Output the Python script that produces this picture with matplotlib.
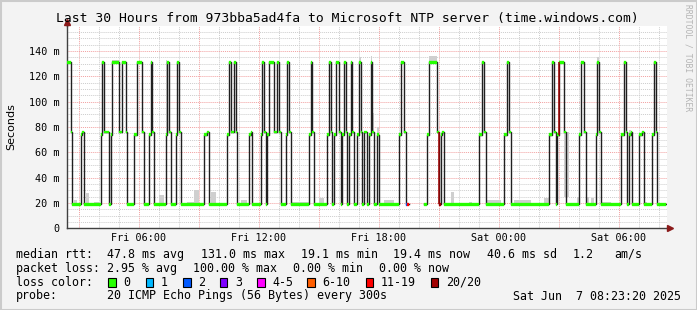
import numpy as np
import pandas as pd
import matplotlib
matplotlib.use("Agg")
import matplotlib.pyplot as plt
import matplotlib.dates as mdates
from matplotlib.patches import Rectangle
from matplotlib.ticker import MultipleLocator, FuncFormatter

W, H = 697, 310
MONO = "DejaVu Sans Mono"

# median rtt in ms, 5 minute samples from Fri 02:20 -------------------------------
# each run: start (minutes after 02:20) and median level (nan = no data)
run_start = [0, 15, 20, 45, 50, 55, 105, 110, 115, 130, 135, 140, 160, 170, 180, 185,
             205, 215, 230, 235, 250, 255, 260, 265, 300, 305, 310, 315, 330, 335, 340, 345,
             415, 425, 430, 485, 490, 495, 505, 510, 515, 550, 555, 560, 585, 590, 595, 600,
             605, 610, 625, 635, 640, 645, 660, 665, 670, 675, 730, 735, 740, 745, 785, 790,
             795, 800, 805, 810, 820, 825, 830, 835, 840, 845, 850, 855, 860, 865, 875, 880,
             885, 890, 895, 905, 910, 915, 920, 925, 935, 940, 1000, 1005, 1015, 1020, 1030,
             1075, 1085, 1090, 1115, 1120, 1125, 1130, 1135, 1240, 1250, 1255, 1260, 1315,
             1325, 1330, 1335, 1450, 1460, 1465, 1470, 1475, 1480, 1495, 1500, 1540, 1545,
             1555, 1560, 1590, 1595, 1600, 1605, 1665, 1675, 1680, 1685, 1690, 1695, 1700,
             1720, 1730, 1735, 1760, 1765, 1770, 1775]
run_level = [131, 76, 19, 74, 76, 19, 74, 131, 76, 19, 74, 131, 76, 131, 76, 19,
             74, 131, 76, 19, 74, 131, 76, 19, 74, 131, 76, 19, 74, 131, 76, 19,
             74, 76, 19, 74, 131, 76, 131, 76, 19, 74, 76, 19, 74, 131, 76, 19,
             74, 131, 76, 131, 76, 19, 74, 131, 76, 19, 74, 131, 76, 19, 74, 131,
             76, 19, 74, 131, 76, 19, 74, 131, 76, 19, 74, 131, 76, 19, 74, 131,
             76, 19, 76, 19, 74, 131, 76, 19, 74, 19, 74, 131, 76, 19, np.nan,
             19, 74, 131, 76, 19, 74, 76, 19, 74, 131, 76, 19,
             74, 131, 76, 19, 74, 131, 76, 19, 74, 131, 76, 19, 74,
             131, 76, 19, 74, 131, 76, 19, 74, 131, 76, 19, 74, 76,
             19, 74, 76, 19, 74, 131, 76, 19]
run_end = 1800

# samples with packet loss (time, loss band)
loss_time = ["2025-06-06 19:20", "2025-06-06 19:25", "2025-06-06 21:00"]
loss_band = ["2", "11-19", "20/20"]
# step edges drawn in the 20/20 colour
dead_time = ["2025-06-06 21:00", "2025-06-07 03:00"]

# smoke (ping spread above the median): start, minutes, top value in ms
smoke_start = ["2025-06-06 02:45", "2025-06-06 03:20", "2025-06-06 03:45", "2025-06-06 04:40",
               "2025-06-06 07:00", "2025-06-06 07:20", "2025-06-06 08:25", "2025-06-06 08:45",
               "2025-06-06 09:35", "2025-06-06 11:05", "2025-06-06 13:35", "2025-06-06 15:00",
               "2025-06-06 17:00", "2025-06-06 17:35", "2025-06-06 17:40", "2025-06-06 17:55",
               "2025-06-06 18:15", "2025-06-06 20:30", "2025-06-06 21:35", "2025-06-06 22:30",
               "2025-06-06 23:25", "2025-06-07 00:45", "2025-06-07 02:15", "2025-06-07 03:15",
               "2025-06-07 03:55", "2025-06-07 04:20", "2025-06-07 04:35", "2025-06-07 04:55",
               "2025-06-07 05:05", "2025-06-07 06:30", "2025-06-07 07:15"]
smoke_minutes = [10, 10, 15, 20, 15, 5, 20, 15, 15, 20, 55, 15, 5, 5, 5, 5,
                 30, 25, 10, 10, 40, 50, 15, 15, 5, 10, 10, 5, 30, 5, 10]
smoke_top = [22, 28, 21, 133, 26, 133, 21, 30, 29, 22, 21, 24, 135, 136, 91, 80,
             22, 136, 29, 21, 22, 22, 24, 25, 25, 25, 24, 135, 21, 78, 21]

loss_names = ["0", "1", "2", "3", "4-5", "6-10", "11-19", "20/20"]
loss_colors = ["#26ff00", "#00b8ff", "#0059ff", "#7e00ff", "#ff00ff", "#ff5e00", "#ff0000", "#a10000"]

legend_rtt = [("median rtt:", 16), ("47.8 ms avg", 107.3), ("131.0 ms max", 201),
              ("19.1 ms min", 301), ("19.4 ms now", 393.3), ("40.6 ms sd", 486.7),
              ("1.2", 572.7), ("am/s", 614.3)]
legend_loss = [("packet loss:", 16), ("2.95 % avg", 107.3), ("100.00 % max", 193.3),
               ("0.00 % min", 293.3), ("0.00 % now", 379.3)]

# build the series -----------------------------------------------------------------
t0 = pd.Timestamp("2025-06-06 02:20")
counts = np.diff(run_start + [run_end]) // 5
median = np.repeat(np.array(run_level, dtype=float), counts)
n = len(median)
edges = mdates.date2num(t0 + pd.to_timedelta(np.arange(n + 1) * 5, unit="min"))
step = 5 / 1440.0

fig = plt.figure(figsize=(W / 100, H / 100), dpi=100, facecolor="#f3f3f3")
fig.patches.append(Rectangle((0, 0), 1, 1, transform=fig.transFigure, fill=False,
                             ec="#cbcbcb", lw=2.2))

ax = fig.add_axes([66.7 / W, 1 - 228.3 / H, 600 / W, 202 / H])
ax.set_facecolor("white")

# smoke
sm_x = mdates.date2num(pd.to_datetime(smoke_start))
sm_idx = np.searchsorted(edges, sm_x + 1e-6) - 1
sm_bottom = median[sm_idx]
ax.bar(sm_x, np.array(smoke_top) - sm_bottom, bottom=sm_bottom,
       width=np.array(smoke_minutes) / 1440.0, align="edge", color="#cfcfcf", lw=0, zorder=2)

# median line
ax.plot(edges, np.append(median, median[-1]), drawstyle="steps-post",
        color="#202020", lw=1.0, zorder=3)

# loss coloured boxes on the median
cols = [loss_colors[0]] * n
lt = mdates.date2num(pd.to_datetime(loss_time))
for t, b in zip(lt, loss_band):
    k = int(np.searchsorted(edges, t + 1e-6) - 1)
    cols[k] = loss_colors[loss_names.index(b)]
hw = 1.0
ax.bar(edges[:-1], 2 * hw, bottom=median - hw, width=step, align="edge",
       color=cols, edgecolor=cols, lw=0.2, zorder=4)

dt = mdates.date2num(pd.to_datetime(dead_time))
for t in dt:
    k = int(np.searchsorted(edges, t + 1e-6) - 1)
    ax.vlines(edges[k], min(median[k - 1], median[k]), max(median[k - 1], median[k]),
              color="#a10000", lw=1.1, zorder=5)

# axes, grid
x0 = mdates.date2num(pd.Timestamp("2025-06-06 02:23:20"))
x1 = mdates.date2num(pd.Timestamp("2025-06-07 08:23:20"))
ax.set_xlim(x0, x1)
ax.set_ylim(0, 159.5)
ax.yaxis.set_major_locator(MultipleLocator(20))
ax.yaxis.set_minor_locator(MultipleLocator(5))
ax.xaxis.set_major_locator(mdates.HourLocator(byhour=range(0, 24, 3)))
ax.xaxis.set_minor_locator(mdates.HourLocator())


def xfmt(x, pos):
    d = mdates.num2date(x)
    return d.strftime("%a %H:%M") if d.hour % 6 == 0 else ""


ax.xaxis.set_major_formatter(FuncFormatter(xfmt))
ax.yaxis.set_major_formatter(FuncFormatter(lambda v, p: "0" if v == 0 else "%d m" % v))
ax.set_axisbelow(True)
ax.grid(which="minor", color="#cdcdcd", ls=(0, (1, 1)), lw=0.7)
ax.grid(which="major", color="#f2a0a0", ls=(0, (1, 1)), lw=0.7)
ax.tick_params(which="both", length=0)
ax.tick_params(axis="y", pad=5.4, labelsize=7.3)
ax.tick_params(axis="x", pad=3.5, labelsize=7.3)
for lab in ax.get_xticklabels() + ax.get_yticklabels():
    lab.set_family(MONO)
for s in ["top", "right"]:
    ax.spines[s].set_visible(False)
for s in ["left", "bottom"]:
    ax.spines[s].set_color("#404040")
    ax.spines[s].set_linewidth(1.0)

# axis arrows
ax.plot([0, 0], [1, 1.02], transform=ax.transAxes, color="#404040", lw=1, clip_on=False)
ax.plot([0], [1.02], transform=ax.transAxes, marker="^", ms=5, color="#8b1a1a",
        clip_on=False, zorder=6)
ax.plot([1, 1.006], [0, 0], transform=ax.transAxes, color="#404040", lw=1, clip_on=False)
ax.plot([1.006], [0], transform=ax.transAxes, marker=">", ms=5, color="#8b1a1a",
        clip_on=False, zorder=6)

# texts
fig.text(347.7 / W, 1 - 18.5 / H,
         "Last 30 Hours from 973bba5ad4fa to Microsoft NTP server (time.windows.com)",
         ha="center", va="center", fontsize=9.4, family=MONO)
fig.text(11 / W, 1 - 127 / H, "Seconds", rotation=90, ha="center", va="center",
         fontsize=8, family="DejaVu Sans")
fig.text(688 / W, 1 - 58 / H, "RRDTOOL / TOBI OETIKER", rotation=270, ha="center",
         va="center", fontsize=5.8, family=MONO, color="#b4b4b4")

for txt, px in legend_rtt:
    fig.text(px / W, 1 - 254.3 / H, txt, ha="left", va="center", fontsize=8.4, family=MONO)
for txt, px in legend_loss:
    fig.text(px / W, 1 - 268.3 / H, txt, ha="left", va="center", fontsize=8.4, family=MONO)

fig.text(16 / W, 1 - 282 / H, "loss color:", ha="left", va="center", fontsize=8.4, family=MONO)
box_x = [108.3, 145.7, 183, 220, 257, 307.3, 365.7, 430.7]
for bx, name, c in zip(box_x, loss_names, loss_colors):
    fig.patches.append(Rectangle((bx / W, 1 - 286.5 / H), 7.5 / W, 8.5 / H,
                                 transform=fig.transFigure, fc=c, ec="black", lw=0.8))
    fig.text((bx + 15) / W, 1 - 282 / H, name, ha="left", va="center", fontsize=8.4, family=MONO)

fig.text(16 / W, 1 - 296 / H, "probe:", ha="left", va="center", fontsize=8.4, family=MONO)
fig.text(107.3 / W, 1 - 296 / H, "20 ICMP Echo Pings (56 Bytes) every 300s",
         ha="left", va="center", fontsize=8.4, family=MONO)
fig.text(513.3 / W, 1 - 296 / H, "Sat Jun  7 08:23:20 2025",
         ha="left", va="center", fontsize=8.4, family=MONO)

fig.savefig("out.png", dpi=100, facecolor=fig.get_facecolor())
